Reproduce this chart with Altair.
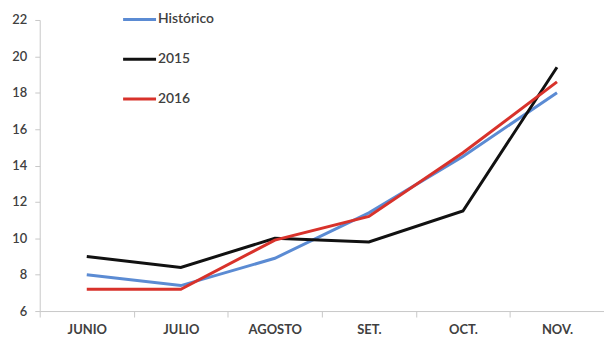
import altair as alt
import pandas as pd

months = ["JUNIO", "JULIO", "AGOSTO", "SET.", "OCT.", "NOV."]
historico = [8.0, 7.4, 8.9, 11.4, 14.5, 18.0]
y2015 = [9.0, 8.4, 10.0, 9.8, 11.5, 19.4]
y2016 = [7.2, 7.2, 9.9, 11.2, 14.7, 18.6]
series = ["Histórico", "2015", "2016"]
colors = ["#5B8BD3", "#111111", "#D8322B"]

rows = []
for name, vals in zip(series, [historico, y2015, y2016]):
    for m, v in zip(months, vals):
        rows.append({"mes": m, "valor": v, "serie": name})
df = pd.DataFrame(rows)

font = "Lato"

chart = alt.Chart(df).mark_line(strokeWidth=3).encode(
    x=alt.X("mes:N", sort=months, title=None,
            scale=alt.Scale(paddingInner=0, paddingOuter=0),
            axis=alt.Axis(labelAngle=0, tickBand="extent", domainColor="#C8C8C8",
                          tickColor="#C8C8C8", tickSize=6, labelFontSize=13,
                          labelFont=font, labelFontWeight="bold", labelColor="#404040",
                          labelPadding=7)),
    y=alt.Y("valor:Q", title=None,
            scale=alt.Scale(domain=[6, 22], nice=False),
            axis=alt.Axis(values=list(range(6, 23, 2)), grid=False, domainColor="#C8C8C8",
                          tickColor="#C8C8C8", tickSize=5, labelFontSize=13,
                          labelFont=font, labelFontWeight=600, labelColor="#404040",
                          labelPadding=8)),
    color=alt.Color("serie:N", sort=series, title=None,
                    scale=alt.Scale(domain=series, range=colors),
                    legend=alt.Legend(orient="none", legendX=82, legendY=-19,
                                      symbolType="stroke", symbolSize=1100,
                                      symbolStrokeWidth=3, labelFontSize=14,
                                      labelFont=font, labelFontWeight=600,
                                      labelColor="#404040",
                                      rowPadding=14, labelOffset=0)),
).properties(
    width=568, height=293,
    autosize=alt.AutoSizeParams(type="none"),
    padding={"left": 40, "top": 19, "right": 0, "bottom": 26},
).configure_view(stroke=None)

chart.save("out.html", embed_options={"renderer": "svg", "actions": False})
